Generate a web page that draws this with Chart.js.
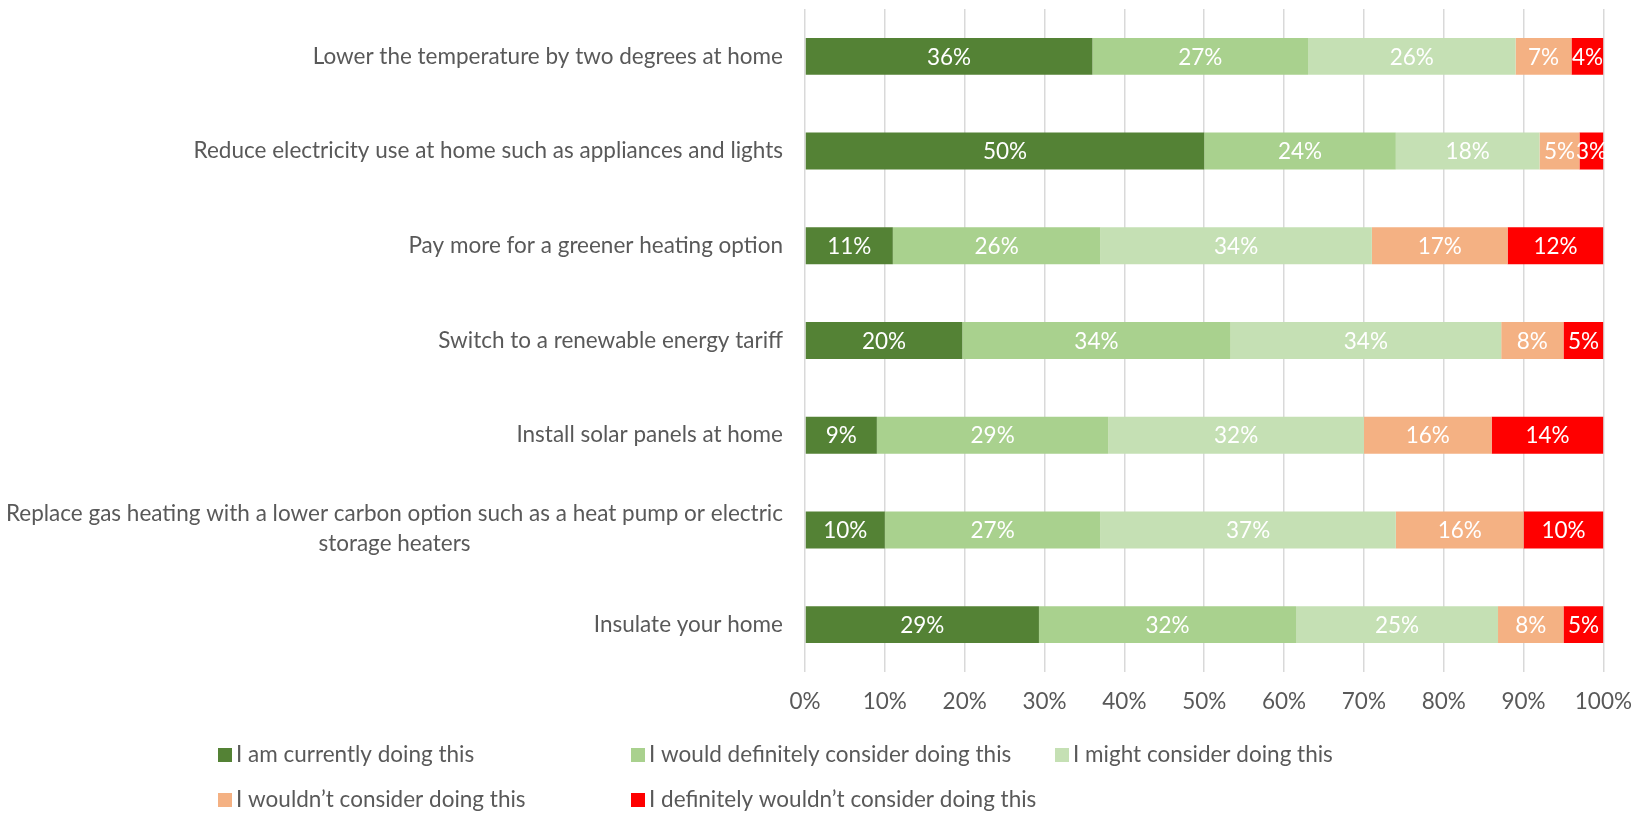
<!DOCTYPE html>
<html>
<head>
<meta charset="utf-8">
<script src="https://cdn.jsdelivr.net/npm/chart.js@4.4.1/dist/chart.umd.min.js"></script>
<style>
    html, body { margin: 0; padding: 0; background: #ffffff; }
    #wrap { position: relative; width: 1648px; height: 813px; }
</style>
</head>
<body>
<div id="wrap"><canvas id="actionsChart" width="1648" height="813"></canvas></div>
<script>
// Survey actions (one row each) - wrapped labels are arrays of lines
const actions = [
    'Lower the temperature by two degrees at home',
    'Reduce electricity use at home such as appliances and lights',
    'Pay more for a greener heating option',
    'Switch to a renewable energy tariff',
    'Install solar panels at home',
    ['Replace gas heating with a lower carbon option such as a heat pump or electric', 'storage heaters'],
    'Insulate your home'
];

const responseNames = [
    'I am currently doing this',
    'I would definitely consider doing this',
    'I might consider doing this',
    'I wouldn\u2019t consider doing this',
    'I definitely wouldn\u2019t consider doing this'
];

// Share of respondents (%) per answer
const currentlyDoing = [36, 50, 11, 19.7, 9, 10, 29.3];
const definitelyConsider = [27, 24, 26, 33.6, 29, 27, 32.2];
const mightConsider = [26, 18, 34, 33.9, 32, 37, 25.3];
const wouldNotConsider = [7, 5, 17, 7.8, 16, 16, 8.2];
const definitelyNot = [4, 3, 12, 5.0, 14, 10, 5.0];

const xTicks = [0, 10, 20, 30, 40, 50, 60, 70, 80, 90, 100];

const seriesColors = ['#548235', '#A9D18E', '#C5E0B4', '#F4B183', '#FF0000'];
const textGrey = '#595959';
const fontFamily = 'Lato, "Open Sans", sans-serif';
const fontSize = 22.5;

// Legend laid out in fixed columns, two rows
const legendSlots = [
    { x: 218, y: 755 }, { x: 631, y: 755 }, { x: 1055, y: 755 },
    { x: 218, y: 800 }, { x: 631, y: 800 }
];

// White percentage labels in the middle of each segment
const segmentLabels = {
    id: 'segmentLabels',
    afterDatasetsDraw(chart) {
        const ctx = chart.ctx;
        ctx.save();
        ctx.font = fontSize + 'px ' + fontFamily;
        ctx.fillStyle = '#ffffff';
        ctx.textAlign = 'center';
        ctx.textBaseline = 'middle';
        chart.data.datasets.forEach((ds, i) => {
            const meta = chart.getDatasetMeta(i);
            meta.data.forEach((bar, j) => {
                const cx = (bar.x + bar.base) / 2;
                ctx.fillText(Math.round(ds.data[j]) + '%', cx, bar.y + 1);
            });
        });
        ctx.restore();
    }
};

// Category labels: right aligned, wrapped ones centred on their widest line
const actionLabels = {
    id: 'actionLabels',
    afterDraw(chart) {
        const ctx = chart.ctx;
        const yScale = chart.scales.y;
        const rightEdge = chart.chartArea.left - 22;
        const lineHeight = 30;
        ctx.save();
        ctx.font = fontSize + 'px ' + fontFamily;
        ctx.fillStyle = textGrey;
        ctx.textBaseline = 'middle';
        chart.data.labels.forEach((label, i) => {
            const y = yScale.getPixelForTick(i);
            if (Array.isArray(label)) {
                const widest = Math.max(...label.map(l => ctx.measureText(l).width));
                const top = y - (label.length - 1) * lineHeight / 2 - 1;
                ctx.textAlign = 'center';
                label.forEach((line, k) => {
                    ctx.fillText(line, rightEdge - widest / 2, top + k * lineHeight);
                });
            } else {
                ctx.textAlign = 'right';
                ctx.fillText(label, rightEdge, y);
            }
        });
        ctx.restore();
    }
};

const fixedLegend = {
    id: 'fixedLegend',
    afterDraw(chart) {
        const ctx = chart.ctx;
        ctx.save();
        ctx.font = fontSize + 'px ' + fontFamily;
        ctx.textBaseline = 'middle';
        ctx.textAlign = 'left';
        chart.data.datasets.forEach((ds, i) => {
            const slot = legendSlots[i];
            ctx.fillStyle = ds.backgroundColor;
            ctx.fillRect(slot.x, slot.y - 7, 14, 14);
            ctx.fillStyle = textGrey;
            ctx.fillText(ds.label, slot.x + 18, slot.y);
        });
        ctx.restore();
    }
};

const seriesValues = [currentlyDoing, definitelyConsider, mightConsider, wouldNotConsider, definitelyNot];

new Chart(document.getElementById('actionsChart'), {
    type: 'bar',
    data: {
        labels: actions,
        datasets: seriesValues.map((values, i) => ({
            label: responseNames[i],
            data: values,
            backgroundColor: seriesColors[i],
            borderWidth: 0,
            categoryPercentage: 1,
            barPercentage: 0.39
        }))
    },
    options: {
        indexAxis: 'y',
        responsive: false,
        animation: false,
        layout: {
            padding: { left: 805, right: 42, top: 9, bottom: 82 }
        },
        plugins: {
            legend: { display: false },
            tooltip: { enabled: false }
        },
        scales: {
            x: {
                stacked: true,
                min: 0,
                max: 100,
                afterBuildTicks(scale) {
                    scale.ticks = xTicks.map(v => ({ value: v }));
                },
                ticks: {
                    color: textGrey,
                    font: { family: fontFamily, size: fontSize },
                    padding: 16,
                    callback: v => v + '%'
                },
                grid: {
                    color: '#D9D9D9',
                    lineWidth: 1.5,
                    drawTicks: false
                },
                border: { display: false }
            },
            y: {
                stacked: true,
                display: false
            }
        }
    },
    plugins: [segmentLabels, actionLabels, fixedLegend]
});
</script>
</body>
</html>
